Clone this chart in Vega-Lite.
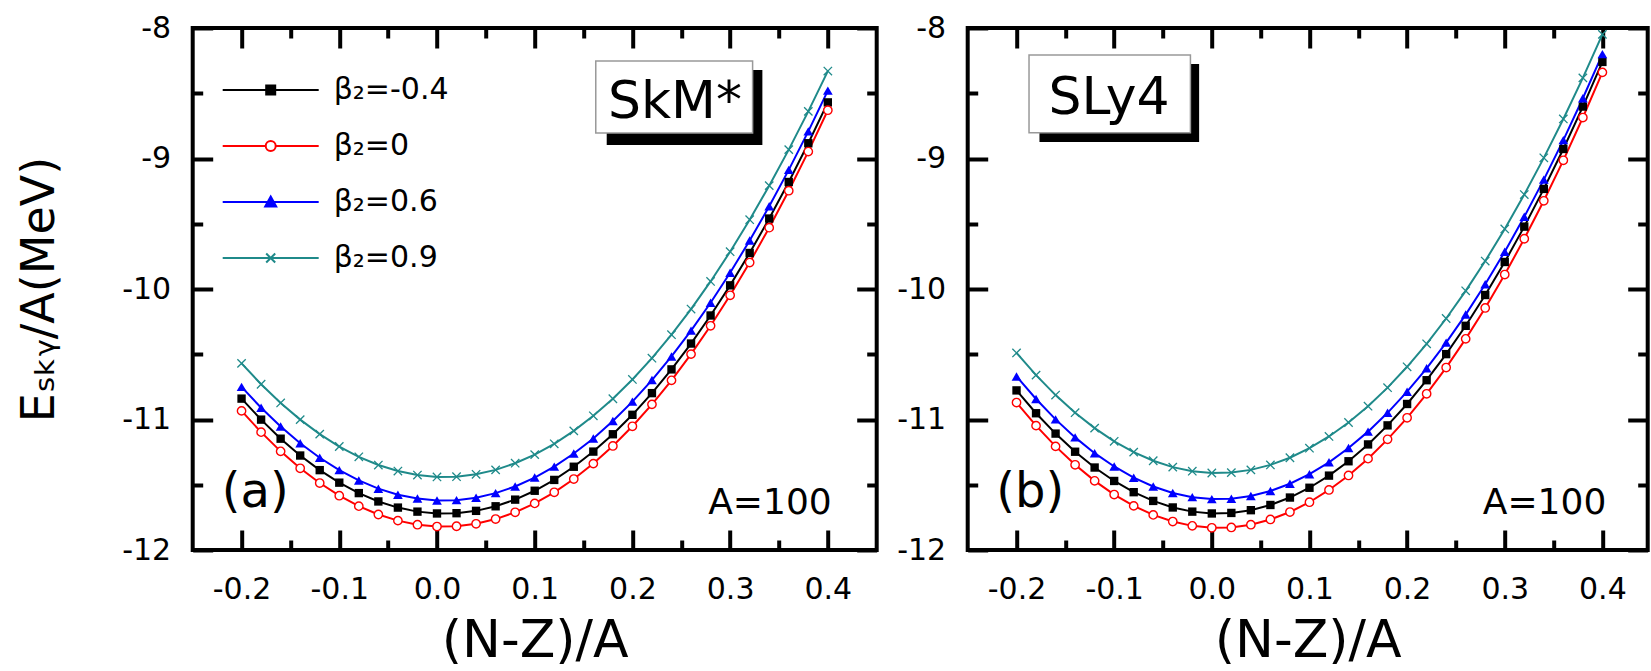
{
 "$schema": "https://vega.github.io/schema/vega-lite/v6.json",
 "autosize": "none",
 "padding": {"left": 192.7, "top": 28, "right": 1458.3, "bottom": 643},
 "background": "white",
 "datasets": {
  "curves": [
   {"p":"a","s":"β₂=-0.4","x":[-0.2,-0.18,-0.16,-0.14,-0.12,-0.1,-0.08,-0.06,-0.04,-0.02,0,0.02,0.04,0.06,0.08,0.1,0.12,0.14,0.16,0.18,0.2,0.22,0.24,0.26,0.28,0.3,0.32,0.34,0.36,0.38,0.4],"y":[-10.840,-11.001,-11.147,-11.276,-11.388,-11.484,-11.564,-11.628,-11.675,-11.706,-11.720,-11.718,-11.700,-11.665,-11.614,-11.546,-11.463,-11.362,-11.246,-11.113,-10.964,-10.798,-10.616,-10.418,-10.203,-9.972,-9.724,-9.460,-9.180,-8.883,-8.570]},
   {"p":"a","s":"β₂=0","x":[-0.2,-0.18,-0.16,-0.14,-0.12,-0.1,-0.08,-0.06,-0.04,-0.02,0,0.02,0.04,0.06,0.08,0.1,0.12,0.14,0.16,0.18,0.2,0.22,0.24,0.26,0.28,0.3,0.32,0.34,0.36,0.38,0.4],"y":[-10.934,-11.097,-11.244,-11.374,-11.487,-11.584,-11.664,-11.728,-11.775,-11.806,-11.820,-11.818,-11.799,-11.763,-11.711,-11.643,-11.558,-11.456,-11.338,-11.203,-11.052,-10.884,-10.700,-10.499,-10.282,-10.048,-9.797,-9.530,-9.247,-8.947,-8.630]},
   {"p":"a","s":"β₂=0.6","x":[-0.2,-0.18,-0.16,-0.14,-0.12,-0.1,-0.08,-0.06,-0.04,-0.02,0,0.02,0.04,0.06,0.08,0.1,0.12,0.14,0.16,0.18,0.2,0.22,0.24,0.26,0.28,0.3,0.32,0.34,0.36,0.38,0.4],"y":[-10.750,-10.910,-11.054,-11.182,-11.293,-11.388,-11.467,-11.530,-11.576,-11.606,-11.620,-11.618,-11.599,-11.564,-11.513,-11.445,-11.361,-11.261,-11.145,-11.012,-10.863,-10.698,-10.517,-10.319,-10.105,-9.875,-9.629,-9.366,-9.087,-8.792,-8.480]},
   {"p":"a","s":"β₂=0.9","x":[-0.2,-0.18,-0.16,-0.14,-0.12,-0.1,-0.08,-0.06,-0.04,-0.02,0,0.02,0.04,0.06,0.08,0.1,0.12,0.14,0.16,0.18,0.2,0.22,0.24,0.26,0.28,0.3,0.32,0.34,0.36,0.38,0.4],"y":[-10.570,-10.730,-10.873,-11.001,-11.112,-11.207,-11.286,-11.349,-11.395,-11.426,-11.440,-11.438,-11.420,-11.386,-11.335,-11.269,-11.186,-11.087,-10.972,-10.841,-10.693,-10.530,-10.350,-10.154,-9.942,-9.714,-9.469,-9.208,-8.932,-8.639,-8.330]},
   {"p":"b","s":"β₂=-0.4","x":[-0.2,-0.18,-0.16,-0.14,-0.12,-0.1,-0.08,-0.06,-0.04,-0.02,0,0.02,0.04,0.06,0.08,0.1,0.12,0.14,0.16,0.18,0.2,0.22,0.24,0.26,0.28,0.3,0.32,0.34,0.36,0.38,0.4],"y":[-10.777,-10.952,-11.108,-11.247,-11.368,-11.471,-11.557,-11.624,-11.674,-11.706,-11.720,-11.716,-11.695,-11.655,-11.598,-11.523,-11.430,-11.320,-11.191,-11.045,-10.881,-10.699,-10.499,-10.282,-10.046,-9.793,-9.522,-9.233,-8.927,-8.602,-8.260]},
   {"p":"b","s":"β₂=0","x":[-0.2,-0.18,-0.16,-0.14,-0.12,-0.1,-0.08,-0.06,-0.04,-0.02,0,0.02,0.04,0.06,0.08,0.1,0.12,0.14,0.16,0.18,0.2,0.22,0.24,0.26,0.28,0.3,0.32,0.34,0.36,0.38,0.4],"y":[-10.870,-11.047,-11.206,-11.347,-11.470,-11.575,-11.662,-11.731,-11.782,-11.815,-11.830,-11.827,-11.806,-11.766,-11.709,-11.634,-11.540,-11.429,-11.300,-11.152,-10.987,-10.803,-10.602,-10.382,-10.145,-9.889,-9.615,-9.324,-9.014,-8.686,-8.340]},
   {"p":"b","s":"β₂=0.6","x":[-0.2,-0.18,-0.16,-0.14,-0.12,-0.1,-0.08,-0.06,-0.04,-0.02,0,0.02,0.04,0.06,0.08,0.1,0.12,0.14,0.16,0.18,0.2,0.22,0.24,0.26,0.28,0.3,0.32,0.34,0.36,0.38,0.4],"y":[-10.670,-10.843,-10.999,-11.137,-11.258,-11.360,-11.446,-11.513,-11.563,-11.595,-11.610,-11.607,-11.586,-11.548,-11.492,-11.419,-11.328,-11.219,-11.093,-10.949,-10.787,-10.608,-10.411,-10.196,-9.964,-9.714,-9.447,-9.162,-8.859,-8.538,-8.200]},
   {"p":"b","s":"β₂=0.9","x":[-0.2,-0.18,-0.16,-0.14,-0.12,-0.1,-0.08,-0.06,-0.04,-0.02,0,0.02,0.04,0.06,0.08,0.1,0.12,0.14,0.16,0.18,0.2,0.22,0.24,0.26,0.28,0.3,0.32,0.34,0.36,0.38,0.4],"y":[-10.490,-10.660,-10.813,-10.948,-11.066,-11.167,-11.250,-11.316,-11.365,-11.396,-11.410,-11.407,-11.386,-11.348,-11.293,-11.220,-11.130,-11.023,-10.898,-10.756,-10.596,-10.420,-10.226,-10.014,-9.786,-9.540,-9.276,-8.995,-8.697,-8.382,-8.049]}
  ]
 },
 "spacing": 91,
 "bounds": "flush",
 "resolve": {"scale": {"x": "independent", "y": "independent", "stroke": "independent", "shape": "independent", "fill": "independent"}, "legend": {"stroke": "independent", "shape": "independent", "fill": "independent"}},
 "hconcat": [
  {
   "width": 684, "height": 522,
   "data": {"name": "curves"},
   "transform": [{"flatten": ["x", "y"]}, {"filter": "datum.p === 'a'"}],
   "resolve": {"axis": {"x": "independent", "y": "independent"}},
   "layer": [
    {"mark": {"type": "line", "strokeWidth": 2},
     "encoding": {
      "x": {"field": "x", "type": "quantitative", "scale": {"domain": [-0.25, 0.45], "nice": false, "zero": false},
            "axis": {"orient": "bottom", "values": [-0.2, -0.1, 0, 0.1, 0.2, 0.3, 0.4], "ticks": false, "labelFontSize": 30, "labelPadding": 24, "labelFlush": false, "labelOverlap": false, "labelExpr": "replace(format(datum.value,'.1f'),'\u2212','-')", "title": "(N-Z)/A", "titleFontSize": 52, "titlePadding": 11}},
      "y": {"field": "y", "type": "quantitative", "scale": {"domain": [-12, -8], "nice": false, "zero": false},
            "axis": {"orient": "left", "values": [-12, -11, -10, -9, -8], "ticks": false, "labelFontSize": 30, "labelPadding": 22, "labelFlush": false, "labelOverlap": false, "labelExpr": "replace(format(datum.value,'d'),'\u2212','-')", "title": "Eₛₖᵧ/A(MeV)", "titleFontSize": 46, "titlePadding": 58}},
      "stroke": {"field": "s", "type": "nominal", "scale": {"domain": ["β₂=-0.4", "β₂=0", "β₂=0.6", "β₂=0.9"], "range": ["#000000", "#ff0000", "#0000ff", "#1f8a8a"]}}
     }},
    {"transform": [{"filter": "datum.s === 'β₂=-0.4'"}],
     "mark": {"type": "point", "shape": "square", "filled": true, "color": "#000000", "size": 70, "opacity": 1},
     "encoding": {
      "x": {"field": "x", "type": "quantitative", "scale": {"domain": [-0.25, 0.45], "nice": false, "zero": false}, "axis": {"orient": "bottom", "values": [-0.2, -0.1, 0, 0.1, 0.2, 0.3, 0.4], "labels": false, "tickSize": -20, "tickWidth": 4, "title": null}},
      "y": {"field": "y", "type": "quantitative", "scale": {"domain": [-12, -8], "nice": false, "zero": false}, "axis": {"orient": "left", "values": [-12, -11, -10, -9, -8], "labels": false, "tickSize": -20, "tickWidth": 4, "title": null}}
     }},
    {"transform": [{"filter": "datum.s === 'β₂=0'"}],
     "mark": {"type": "point", "shape": "circle", "fill": "#ffffff", "stroke": "#ff0000", "strokeWidth": 1.4, "size": 70, "opacity": 1},
     "encoding": {
      "x": {"field": "x", "type": "quantitative", "scale": {"domain": [-0.25, 0.45], "nice": false, "zero": false}, "axis": {"orient": "bottom", "values": [-0.15, -0.05, 0.05, 0.15, 0.25, 0.35], "labels": false, "tickSize": -10, "tickWidth": 4, "title": null}},
      "y": {"field": "y", "type": "quantitative", "scale": {"domain": [-12, -8], "nice": false, "zero": false}, "axis": {"orient": "left", "values": [-11.5, -10.5, -9.5, -8.5], "labels": false, "tickSize": -10, "tickWidth": 4, "title": null}}
     }},
    {"transform": [{"filter": "datum.s === 'β₂=0.6'"}],
     "mark": {"type": "point", "shape": "triangle-up", "filled": true, "color": "#0000ff", "size": 95, "opacity": 1},
     "encoding": {
      "x": {"field": "x", "type": "quantitative", "scale": {"domain": [-0.25, 0.45], "nice": false, "zero": false}, "axis": {"orient": "top", "values": [-0.2, -0.1, 0, 0.1, 0.2, 0.3, 0.4], "labels": false, "tickSize": -20, "tickWidth": 4, "title": null}},
      "y": {"field": "y", "type": "quantitative", "scale": {"domain": [-12, -8], "nice": false, "zero": false}, "axis": {"orient": "right", "values": [-12, -11, -10, -9, -8], "labels": false, "tickSize": -20, "tickWidth": 4, "title": null}}
     }},
    {"transform": [{"filter": "datum.s === 'β₂=0.9'"}],
     "mark": {"type": "point", "shape": "M-1,-1L1,1M-1,1L1,-1", "filled": false, "stroke": "#1f8a8a", "strokeWidth": 1.3, "size": 70, "opacity": 1},
     "encoding": {
      "x": {"field": "x", "type": "quantitative", "scale": {"domain": [-0.25, 0.45], "nice": false, "zero": false}, "axis": {"orient": "top", "values": [-0.15, -0.05, 0.05, 0.15, 0.25, 0.35], "labels": false, "tickSize": -10, "tickWidth": 4, "title": null}},
      "y": {"field": "y", "type": "quantitative", "scale": {"domain": [-12, -8], "nice": false, "zero": false}, "axis": {"orient": "right", "values": [-11.5, -10.5, -9.5, -8.5], "labels": false, "tickSize": -10, "tickWidth": 4, "title": null}}
     }},
    {"transform": [{"filter": "false"}],
     "mark": {"type": "point", "filled": true, "strokeWidth": 2, "opacity": 1},
     "encoding": {
      "x": {"field": "x", "type": "quantitative", "scale": {"domain": [-0.25, 0.45], "nice": false, "zero": false}, "axis": null},
      "y": {"field": "y", "type": "quantitative", "scale": {"domain": [-12, -8], "nice": false, "zero": false}, "axis": null},
      "shape": {"field": "s", "type": "nominal",
                "scale": {"domain": ["β₂=-0.4", "β₂=0", "β₂=0.6", "β₂=0.9"], "range": ["M-9.6,0H9.6M-0.9,-0.9H0.9V0.9H-0.9Z", "M-9.6,0H-1M1,0H9.6M1,0A1,1,0,1,1,-1,0A1,1,0,1,1,1,0Z", "M-9.6,0H9.6M0,-1.1L1.1,0.9H-1.1Z", "M-9.6,0H9.6M-0.9,-0.9L0.9,0.9M-0.9,0.9L0.9,-0.9"]},
                "legend": {"orient": "none", "legendX": 63, "legendY": 47, "title": null, "labelFont": "DejaVu Sans", "labelFontSize": 30, "labelColor": "#000000", "labelOffset": 48, "rowPadding": 26, "symbolSize": 100, "symbolStrokeWidth": 2, "symbolOpacity": 1, "padding": 0}},
      "stroke": {"field": "s", "type": "nominal", "scale": {"domain": ["β₂=-0.4", "β₂=0", "β₂=0.6", "β₂=0.9"], "range": ["#000000", "#ff0000", "#0000ff", "#1f8a8a"]}},
      "fill": {"field": "s", "type": "nominal", "scale": {"domain": ["β₂=-0.4", "β₂=0", "β₂=0.6", "β₂=0.9"], "range": ["#000000", "#ffffff", "#0000ff", "transparent"]}}
     }},
    {"data": {"values": [{}]},
     "mark": {"type": "rect", "fill": "#000000"},
     "encoding": {
      "x": {"datum": 0.1737, "type": "quantitative", "scale": {"domain": [-0.25, 0.45], "nice": false, "zero": false}, "axis": null},
      "x2": {"datum": 0.333},
      "y": {"datum": -8.322, "type": "quantitative", "scale": {"domain": [-12, -8], "nice": false, "zero": false}, "axis": null},
      "y2": {"datum": -8.897}
     }},
    {"data": {"values": [{}]},
     "mark": {"type": "rect", "fill": "#ffffff", "stroke": "#999999", "strokeWidth": 1.5},
     "encoding": {
      "x": {"datum": 0.1625, "type": "quantitative", "scale": {"domain": [-0.25, 0.45], "nice": false, "zero": false}, "axis": null},
      "x2": {"datum": 0.323},
      "y": {"datum": -8.253, "type": "quantitative", "scale": {"domain": [-12, -8], "nice": false, "zero": false}, "axis": null},
      "y2": {"datum": -8.805}
     }},
    {"data": {"values": [{}]},
     "mark": {"type": "text", "text": "SkM*", "font": "DejaVu Sans", "fontSize": 52, "align": "center", "baseline": "alphabetic", "color": "#000000"},
     "encoding": {
      "x": {"datum": 0.2435, "type": "quantitative", "scale": {"domain": [-0.25, 0.45], "nice": false, "zero": false}, "axis": null},
      "y": {"datum": -8.69, "type": "quantitative", "scale": {"domain": [-12, -8], "nice": false, "zero": false}, "axis": null}
     }},
    {"data": {"values": [{}]},
     "mark": {"type": "text", "text": "(a)", "font": "DejaVu Sans", "fontSize": 48, "align": "center", "baseline": "alphabetic", "color": "#000000"},
     "encoding": {
      "x": {"datum": -0.186, "type": "quantitative", "scale": {"domain": [-0.25, 0.45], "nice": false, "zero": false}, "axis": null},
      "y": {"datum": -11.67, "type": "quantitative", "scale": {"domain": [-12, -8], "nice": false, "zero": false}, "axis": null}
     }},
    {"data": {"values": [{}]},
     "mark": {"type": "text", "text": "A=100", "font": "DejaVu Sans", "fontSize": 36, "align": "right", "baseline": "alphabetic", "color": "#000000"},
     "encoding": {
      "x": {"datum": 0.404, "type": "quantitative", "scale": {"domain": [-0.25, 0.45], "nice": false, "zero": false}, "axis": null},
      "y": {"datum": -11.724, "type": "quantitative", "scale": {"domain": [-12, -8], "nice": false, "zero": false}, "axis": null}
     }}
   ]
  },
  {
   "width": 680, "height": 522,
   "data": {"name": "curves"},
   "transform": [{"flatten": ["x", "y"]}, {"filter": "datum.p === 'b'"}],
   "resolve": {"axis": {"x": "independent", "y": "independent"}},
   "layer": [
    {"mark": {"type": "line", "strokeWidth": 2},
     "encoding": {
      "x": {"field": "x", "type": "quantitative", "scale": {"domain": [-0.25, 0.4464], "nice": false, "zero": false},
            "axis": {"orient": "bottom", "values": [-0.2, -0.1, 0, 0.1, 0.2, 0.3, 0.4], "ticks": false, "labelFontSize": 30, "labelPadding": 24, "labelFlush": false, "labelOverlap": false, "labelExpr": "replace(format(datum.value,'.1f'),'\u2212','-')", "title": "(N-Z)/A", "titleFontSize": 52, "titlePadding": 11}},
      "y": {"field": "y", "type": "quantitative", "scale": {"domain": [-12, -8], "nice": false, "zero": false},
            "axis": {"orient": "left", "values": [-12, -11, -10, -9, -8], "ticks": false, "labelFontSize": 30, "labelPadding": 22, "labelFlush": false, "labelOverlap": false, "labelExpr": "replace(format(datum.value,'d'),'\u2212','-')", "title": null}},
      "stroke": {"field": "s", "type": "nominal", "scale": {"domain": ["β₂=-0.4", "β₂=0", "β₂=0.6", "β₂=0.9"], "range": ["#000000", "#ff0000", "#0000ff", "#1f8a8a"]}, "legend": null}
     }},
    {"transform": [{"filter": "datum.s === 'β₂=-0.4'"}],
     "mark": {"type": "point", "shape": "square", "filled": true, "color": "#000000", "size": 70, "opacity": 1},
     "encoding": {
      "x": {"field": "x", "type": "quantitative", "scale": {"domain": [-0.25, 0.4464], "nice": false, "zero": false}, "axis": {"orient": "bottom", "values": [-0.2, -0.1, 0, 0.1, 0.2, 0.3, 0.4], "labels": false, "tickSize": -20, "tickWidth": 4, "title": null}},
      "y": {"field": "y", "type": "quantitative", "scale": {"domain": [-12, -8], "nice": false, "zero": false}, "axis": {"orient": "left", "values": [-12, -11, -10, -9, -8], "labels": false, "tickSize": -20, "tickWidth": 4, "title": null}}
     }},
    {"transform": [{"filter": "datum.s === 'β₂=0'"}],
     "mark": {"type": "point", "shape": "circle", "fill": "#ffffff", "stroke": "#ff0000", "strokeWidth": 1.4, "size": 70, "opacity": 1},
     "encoding": {
      "x": {"field": "x", "type": "quantitative", "scale": {"domain": [-0.25, 0.4464], "nice": false, "zero": false}, "axis": {"orient": "bottom", "values": [-0.15, -0.05, 0.05, 0.15, 0.25, 0.35], "labels": false, "tickSize": -10, "tickWidth": 4, "title": null}},
      "y": {"field": "y", "type": "quantitative", "scale": {"domain": [-12, -8], "nice": false, "zero": false}, "axis": {"orient": "left", "values": [-11.5, -10.5, -9.5, -8.5], "labels": false, "tickSize": -10, "tickWidth": 4, "title": null}}
     }},
    {"transform": [{"filter": "datum.s === 'β₂=0.6'"}],
     "mark": {"type": "point", "shape": "triangle-up", "filled": true, "color": "#0000ff", "size": 95, "opacity": 1},
     "encoding": {
      "x": {"field": "x", "type": "quantitative", "scale": {"domain": [-0.25, 0.4464], "nice": false, "zero": false}, "axis": {"orient": "top", "values": [-0.2, -0.1, 0, 0.1, 0.2, 0.3, 0.4], "labels": false, "tickSize": -20, "tickWidth": 4, "title": null}},
      "y": {"field": "y", "type": "quantitative", "scale": {"domain": [-12, -8], "nice": false, "zero": false}, "axis": {"orient": "right", "values": [-12, -11, -10, -9, -8], "labels": false, "tickSize": -20, "tickWidth": 4, "title": null}}
     }},
    {"transform": [{"filter": "datum.s === 'β₂=0.9'"}],
     "mark": {"type": "point", "shape": "M-1,-1L1,1M-1,1L1,-1", "filled": false, "stroke": "#1f8a8a", "strokeWidth": 1.3, "size": 70, "opacity": 1},
     "encoding": {
      "x": {"field": "x", "type": "quantitative", "scale": {"domain": [-0.25, 0.4464], "nice": false, "zero": false}, "axis": {"orient": "top", "values": [-0.15, -0.05, 0.05, 0.15, 0.25, 0.35], "labels": false, "tickSize": -10, "tickWidth": 4, "title": null}},
      "y": {"field": "y", "type": "quantitative", "scale": {"domain": [-12, -8], "nice": false, "zero": false}, "axis": {"orient": "right", "values": [-11.5, -10.5, -9.5, -8.5], "labels": false, "tickSize": -10, "tickWidth": 4, "title": null}}
     }},
    {"data": {"values": [{}]},
     "mark": {"type": "rect", "fill": "#000000"},
     "encoding": {
      "x": {"datum": -0.1765, "type": "quantitative", "scale": {"domain": [-0.25, 0.4464], "nice": false, "zero": false}, "axis": null},
      "x2": {"datum": -0.013},
      "y": {"datum": -8.276, "type": "quantitative", "scale": {"domain": [-12, -8], "nice": false, "zero": false}, "axis": null},
      "y2": {"datum": -8.874}
     }},
    {"data": {"values": [{}]},
     "mark": {"type": "rect", "fill": "#ffffff", "stroke": "#999999", "strokeWidth": 1.5},
     "encoding": {
      "x": {"datum": -0.1872, "type": "quantitative", "scale": {"domain": [-0.25, 0.4464], "nice": false, "zero": false}, "axis": null},
      "x2": {"datum": -0.0219},
      "y": {"datum": -8.207, "type": "quantitative", "scale": {"domain": [-12, -8], "nice": false, "zero": false}, "axis": null},
      "y2": {"datum": -8.803}
     }},
    {"data": {"values": [{}]},
     "mark": {"type": "text", "text": "SLy4", "font": "DejaVu Sans", "fontSize": 52, "align": "center", "baseline": "alphabetic", "color": "#000000"},
     "encoding": {
      "x": {"datum": -0.1053, "type": "quantitative", "scale": {"domain": [-0.25, 0.4464], "nice": false, "zero": false}, "axis": null},
      "y": {"datum": -8.656, "type": "quantitative", "scale": {"domain": [-12, -8], "nice": false, "zero": false}, "axis": null}
     }},
    {"data": {"values": [{}]},
     "mark": {"type": "text", "text": "(b)", "font": "DejaVu Sans", "fontSize": 48, "align": "center", "baseline": "alphabetic", "color": "#000000"},
     "encoding": {
      "x": {"datum": -0.186, "type": "quantitative", "scale": {"domain": [-0.25, 0.4464], "nice": false, "zero": false}, "axis": null},
      "y": {"datum": -11.67, "type": "quantitative", "scale": {"domain": [-12, -8], "nice": false, "zero": false}, "axis": null}
     }},
    {"data": {"values": [{}]},
     "mark": {"type": "text", "text": "A=100", "font": "DejaVu Sans", "fontSize": 36, "align": "right", "baseline": "alphabetic", "color": "#000000"},
     "encoding": {
      "x": {"datum": 0.404, "type": "quantitative", "scale": {"domain": [-0.25, 0.4464], "nice": false, "zero": false}, "axis": null},
      "y": {"datum": -11.724, "type": "quantitative", "scale": {"domain": [-12, -8], "nice": false, "zero": false}, "axis": null}
     }}
   ]
  }
 ],
 "config": {
  "font": "DejaVu Sans",
  "view": {"stroke": "#000000", "strokeWidth": 4},
  "axis": {"labelFont": "DejaVu Sans", "titleFont": "DejaVu Sans", "labelColor": "#000000", "titleColor": "#000000", "tickColor": "#000000", "domain": false, "grid": false, "titleFontWeight": "normal"}
 }
}
